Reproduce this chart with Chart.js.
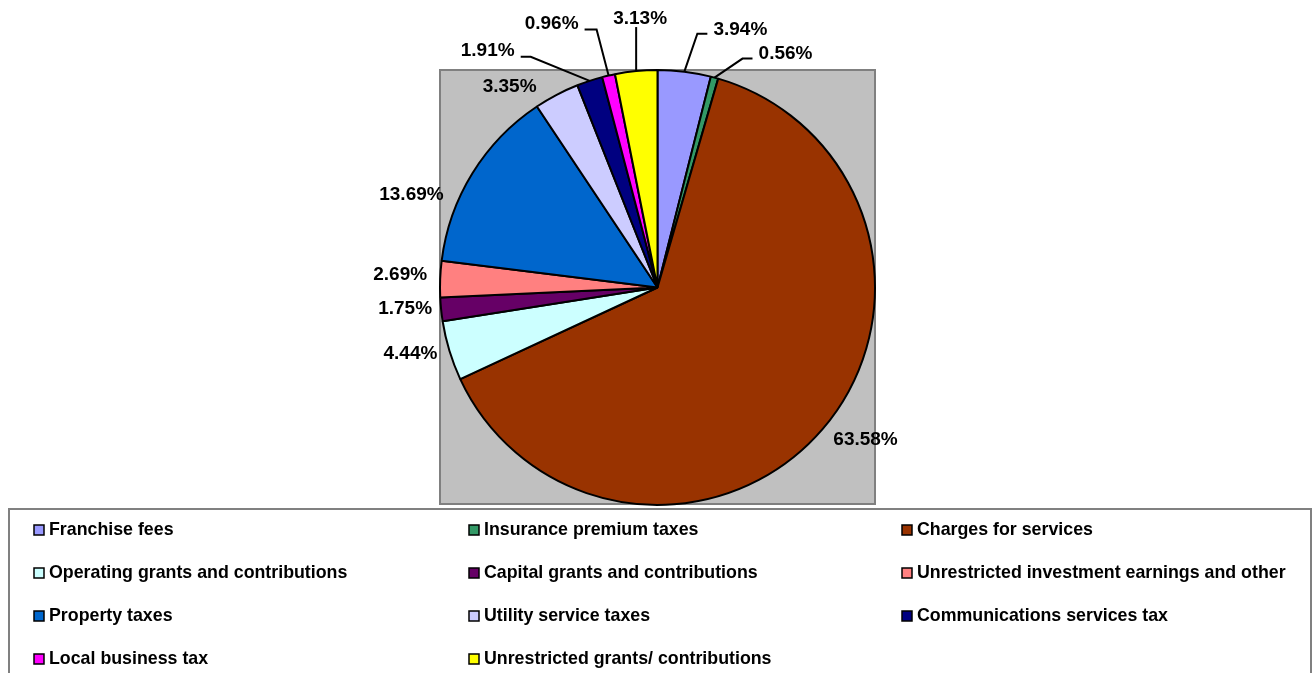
<!DOCTYPE html>
<html>
<head>
<meta charset="utf-8">
<script src="https://cdn.jsdelivr.net/npm/chart.js@4.4.1/dist/chart.umd.min.js"></script>
<style>
  html, body { margin: 0; padding: 0; background: #ffffff; }
  #wrap { width: 1314px; height: 673px; overflow: hidden; }
</style>
</head>
<body>
<div id="wrap"><canvas id="pie" width="1314" height="673"></canvas></div>
<script>
// categories, clockwise from 12 o'clock
var categories = [
    'Franchise fees',
    'Insurance premium taxes',
    'Charges for services',
    'Operating grants and contributions',
    'Capital grants and contributions',
    'Unrestricted investment earnings and other',
    'Property taxes',
    'Utility service taxes',
    'Communications services tax',
    'Local business tax',
    'Unrestricted grants/ contributions'
];
var shares = [3.94, 0.56, 63.58, 4.44, 1.75, 2.69, 13.69, 3.35, 1.91, 0.96, 3.13];
var pctLabels = ['3.94%', '0.56%', '63.58%', '4.44%', '1.75%', '2.69%', '13.69%', '3.35%', '1.91%', '0.96%', '3.13%'];

// order in which the legend lists the entries (3 columns, row by row)
var legendOrder = [0, 1, 2, 3, 4, 5, 6, 7, 8, 9, 10];

var sliceColors = ['#9999FF', '#339966', '#993300', '#CCFFFF', '#660066', '#FF8080',
                   '#0066CC', '#CCCCFF', '#000080', '#FF00FF', '#FFFF00'];

// label placement relative to the slice's outer edge point [dx, dy],
// and optional leader line (elbow point, end point) in the same terms
var labelOffsets = [[56, -42], [71, -24], [43, 11], [-39, 3], [-36, -1], [-40, -4],
                    [-61, 22], [-47, -8], [-102, -30], [-57, -52], [4, -52]];
var leaders = [
    [[13, -38], [23, -38]],
    [[28, -19], [38, -19]],
    null, null, null, null, null, null,
    [[-59, -24], [-69, -24]],
    [[-12, -46], [-24, -46]],
    [[0, -44], [0, -44]]
];

var FONT = '"Liberation Sans", Arial, Helvetica, sans-serif';

// grey plot area behind the pie
var plotAreaBg = {
    id: 'plotAreaBg',
    beforeDatasetsDraw: function (chart) {
        var a = chart.chartArea, ctx = chart.ctx;
        ctx.save();
        ctx.fillStyle = '#C0C0C0';
        ctx.fillRect(a.left + 1, a.top + 1, a.right - a.left - 2, a.bottom - a.top - 3);
        ctx.strokeStyle = '#808080';
        ctx.lineWidth = 2;
        ctx.strokeRect(a.left + 1, a.top + 1, a.right - a.left - 2, a.bottom - a.top - 3);
        ctx.restore();
    }
};

// percentage labels with leader lines
var sliceLabels = {
    id: 'sliceLabels',
    afterDatasetsDraw: function (chart) {
        var ctx = chart.ctx;
        var arcs = chart.getDatasetMeta(0).data;
        ctx.save();
        ctx.font = 'bold 19px ' + FONT;
        ctx.fillStyle = '#000';
        ctx.textAlign = 'center';
        ctx.textBaseline = 'middle';
        ctx.strokeStyle = '#000';
        ctx.lineWidth = 2;
        arcs.forEach(function (arc, i) {
            var p = arc.getProps(['x', 'y', 'startAngle', 'endAngle', 'outerRadius'], true);
            var mid = (p.startAngle + p.endAngle) / 2;
            var ex = p.x + Math.cos(mid) * p.outerRadius;
            var ey = p.y + Math.sin(mid) * p.outerRadius;
            if (leaders[i]) {
                ctx.beginPath();
                ctx.moveTo(ex, ey);
                ctx.lineTo(ex + leaders[i][0][0], ey + leaders[i][0][1]);
                ctx.lineTo(ex + leaders[i][1][0], ey + leaders[i][1][1]);
                ctx.stroke();
            }
            ctx.fillText(pctLabels[i], ex + labelOffsets[i][0], ey + labelOffsets[i][1]);
        });
        ctx.restore();
    }
};

// boxed legend below the plot, three columns
var boxLegend = {
    id: 'boxLegend',
    afterDraw: function (chart) {
        var ctx = chart.ctx;
        var left = 8, top = 508, right = 1312;
        var colX = [34, 469, 902];
        var rowY = 530, rowStep = 43;
        ctx.save();
        ctx.strokeStyle = '#808080';
        ctx.lineWidth = 2;
        ctx.strokeRect(left + 1, top + 1, right - left - 2, chart.height + 10);
        ctx.font = 'bold 17.8px ' + FONT;
        ctx.textBaseline = 'middle';
        ctx.textAlign = 'left';
        legendOrder.forEach(function (idx, k) {
            var x = colX[k % 3];
            var y = rowY + Math.floor(k / 3) * rowStep;
            ctx.fillStyle = sliceColors[idx];
            ctx.fillRect(x, y - 5, 10, 10);
            ctx.strokeStyle = '#000';
            ctx.lineWidth = 1.5;
            ctx.strokeRect(x, y - 5, 10, 10);
            ctx.fillStyle = '#000';
            ctx.fillText(categories[idx], x + 15, y);
        });
        ctx.restore();
    }
};

new Chart(document.getElementById('pie').getContext('2d'), {
    type: 'pie',
    data: {
        labels: categories,
        datasets: [{
            data: shares,
            backgroundColor: sliceColors,
            borderColor: '#000000',
            borderWidth: 2
        }]
    },
    options: {
        responsive: false,
        animation: false,
        layout: {
            padding: { top: 69, bottom: 167, left: 439, right: 438 }
        },
        plugins: {
            legend: { display: false },
            tooltip: { enabled: false }
        }
    },
    plugins: [plotAreaBg, sliceLabels, boxLegend]
});
</script>
</body>
</html>
